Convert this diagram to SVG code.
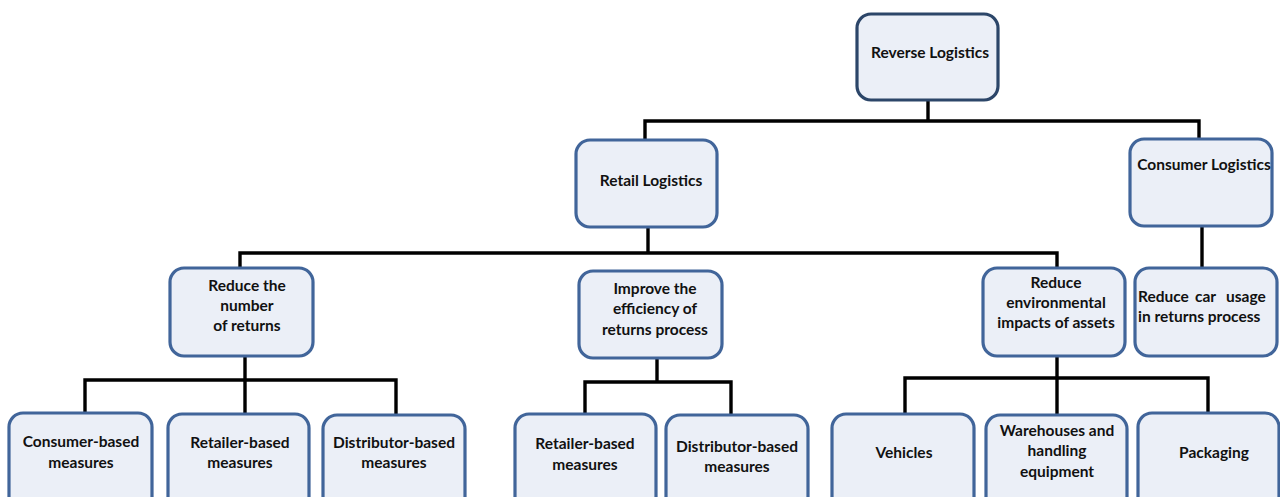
<svg xmlns="http://www.w3.org/2000/svg" width="1280" height="497" viewBox="0 0 1280 497">
  <style>
    .box { fill: #ebeff7; stroke: #41659a; stroke-width: 3.2; }
    .root { stroke: #2c4669; }
    .lbl { font-family: Lato, "Liberation Sans", sans-serif; font-weight: bold; font-size: 15.5px; fill: #111; text-anchor: middle; }
    .wire { fill: none; stroke: #000; stroke-width: 3.4; stroke-linejoin: miter; }
  </style>
  <rect width="1280" height="497" fill="#fff"/>

  <!-- connectors -->
  <g id="connectors">
    <path class="wire" d="M928,101 V121 M645,140 V121 H1199 V139"/>
    <path class="wire" d="M648,227 V253 M240,269 V253 H1057 V268"/>
    <path class="wire" d="M1202,226 V268"/>
    <path class="wire" d="M245,356 V414 M85,413 V380 H396 V414"/>
    <path class="wire" d="M657,358 V382 M585,414 V382 H731 V415"/>
    <path class="wire" d="M1057,356 V415 M905,414 V378 H1208 V414"/>
  </g>

  <!-- level 0 -->
  <g id="reverse-logistics">
    <rect class="box root" x="857" y="14" width="141" height="86" rx="14"/>
    <text class="lbl" x="930" y="58">Reverse Logistics</text>
  </g>

  <!-- level 1 -->
  <g id="retail-logistics">
    <rect class="box" x="576" y="140" width="141" height="87" rx="14"/>
    <text class="lbl" x="651" y="186">Retail Logistics</text>
  </g>
  <g id="consumer-logistics">
    <rect class="box" x="1130" y="139" width="142" height="87" rx="14"/>
    <text class="lbl" x="1204" y="170">Consumer Logistics</text>
  </g>

  <!-- level 2 -->
  <g id="reduce-returns">
    <rect class="box" x="170" y="268" width="143" height="88" rx="14"/>
    <text class="lbl" x="247" y="291">Reduce the</text>
    <text class="lbl" x="247" y="311">number</text>
    <text class="lbl" x="247" y="331">of returns</text>
  </g>
  <g id="improve-efficiency">
    <rect class="box" x="579" y="271" width="143" height="87" rx="14"/>
    <text class="lbl" x="655" y="294">Improve the</text>
    <text class="lbl" x="655" y="314">efficiency of</text>
    <text class="lbl" x="655" y="335">returns process</text>
  </g>
  <g id="reduce-environmental">
    <rect class="box" x="983" y="268" width="142" height="88" rx="14"/>
    <text class="lbl" x="1056" y="288">Reduce</text>
    <text class="lbl" x="1056" y="308">environmental</text>
    <text class="lbl" x="1056" y="328">impacts of assets</text>
  </g>
  <g id="reduce-car-usage">
    <rect class="box" x="1135" y="268" width="142" height="88" rx="14"/>
    <!-- justified first line: words spread across the box width -->
    <text class="lbl" y="302" style="text-anchor:start"><tspan x="1138">Reduce</tspan> <tspan x="1195">car</tspan> <tspan x="1226">usage</tspan></text>
    <text class="lbl" x="1138" y="322" style="text-anchor:start">in returns process</text>
  </g>

  <!-- level 3 -->
  <g id="consumer-based">
    <rect class="box" x="9" y="413" width="143" height="100" rx="14"/>
    <text class="lbl" x="81" y="447">Consumer-based</text>
    <text class="lbl" x="81" y="468">measures</text>
  </g>
  <g id="retailer-based-1">
    <rect class="box" x="168" y="414" width="141" height="100" rx="14"/>
    <text class="lbl" x="240" y="448">Retailer-based</text>
    <text class="lbl" x="240" y="468">measures</text>
  </g>
  <g id="distributor-based-1">
    <rect class="box" x="323" y="415" width="142" height="100" rx="14"/>
    <text class="lbl" x="394" y="448">Distributor-based</text>
    <text class="lbl" x="394" y="468">measures</text>
  </g>
  <g id="retailer-based-2">
    <rect class="box" x="515" y="414" width="141" height="100" rx="14"/>
    <text class="lbl" x="585" y="449">Retailer-based</text>
    <text class="lbl" x="585" y="470">measures</text>
  </g>
  <g id="distributor-based-2">
    <rect class="box" x="666" y="415" width="142" height="100" rx="14"/>
    <text class="lbl" x="737" y="452">Distributor-based</text>
    <text class="lbl" x="737" y="472">measures</text>
  </g>
  <g id="vehicles">
    <rect class="box" x="832" y="414" width="142" height="100" rx="14"/>
    <text class="lbl" x="904" y="458">Vehicles</text>
  </g>
  <g id="warehouses">
    <rect class="box" x="986" y="415" width="141" height="100" rx="14"/>
    <text class="lbl" x="1057" y="436">Warehouses and</text>
    <text class="lbl" x="1057" y="456">handling</text>
    <text class="lbl" x="1057" y="477">equipment</text>
  </g>
  <g id="packaging">
    <rect class="box" x="1138" y="413" width="141" height="100" rx="14"/>
    <text class="lbl" x="1214" y="458">Packaging</text>
  </g>
</svg>
